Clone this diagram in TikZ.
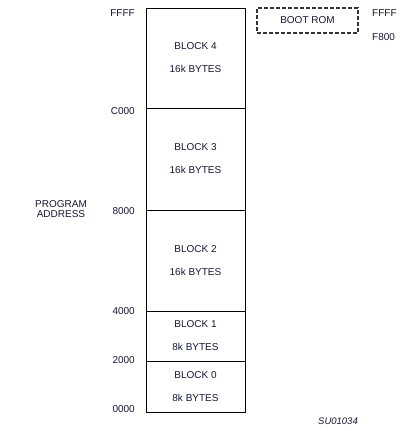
\documentclass[tikz,border=0pt]{standalone}
\usepackage{fontspec}
\setmainfont{Liberation Sans}
\definecolor{txt}{RGB}{20,24,50}
\begin{document}
\begin{tikzpicture}[x=1pt,y=-1pt,
  blk/.style={draw=black, line width=0.8pt, minimum width=99pt, inner sep=0pt, align=center,
    text=txt, font=\fontsize{10}{23}\selectfont},
  addr/.style={anchor=east, inner sep=0pt, text=txt, font=\fontsize{10}{11}\selectfont},
  raddr/.style={anchor=west, inner sep=0pt, text=txt, font=\fontsize{10}{11}\selectfont},
  boot/.style={draw=black!80, dashed, dash pattern=on 4pt off 2pt, line width=1.3pt,
    minimum width=101pt, minimum height=25pt, inner sep=0pt, text=txt, font=\fontsize{10}{11}\selectfont}]
\useasboundingbox (0,0) rectangle (417,431);
% memory blocks
\node[blk, minimum height=100pt] (b4) at (195.5,58) {BLOCK 4\\16k BYTES};
\node[blk, minimum height=102pt] (b3) at (195.5,159) {BLOCK 3\\16k BYTES};
\node[blk, minimum height=101pt] (b2) at (195.5,260.5) {BLOCK 2\\16k BYTES};
\node[blk, minimum height=50pt] (b1) at (195.5,336) {BLOCK 1\\8k BYTES};
\node[blk, minimum height=51pt] (b0) at (195.5,386.5) {BLOCK 0\\8k BYTES};
% address labels
\node[addr] (aFFFF) at (135,13) {FFFF};
\node[addr] (aC000) at (135,111) {C000};
\node[addr] (a8000) at (135,211) {8000};
\node[addr] (a4000) at (135,311) {4000};
\node[addr] (a2000) at (135,360) {2000};
\node[addr] (a0000) at (135,409) {0000};
\node[inner sep=0pt, align=center, text=txt, font=\fontsize{10}{10}\selectfont] (pa) at (61,209.5) {PROGRAM\\ADDRESS};
% boot rom
\node[boot] (boot) at (307.5,20.5) {BOOT ROM};
\node[raddr] (rFFFF) at (372,13) {FFFF};
\node[raddr] (rF800) at (372,37) {F800};
% figure id
\node[inner sep=0pt, text=txt, font=\fontsize{9.5}{11}\selectfont\itshape] (su) at (338,421) {SU01034};
\end{tikzpicture}
\end{document}
